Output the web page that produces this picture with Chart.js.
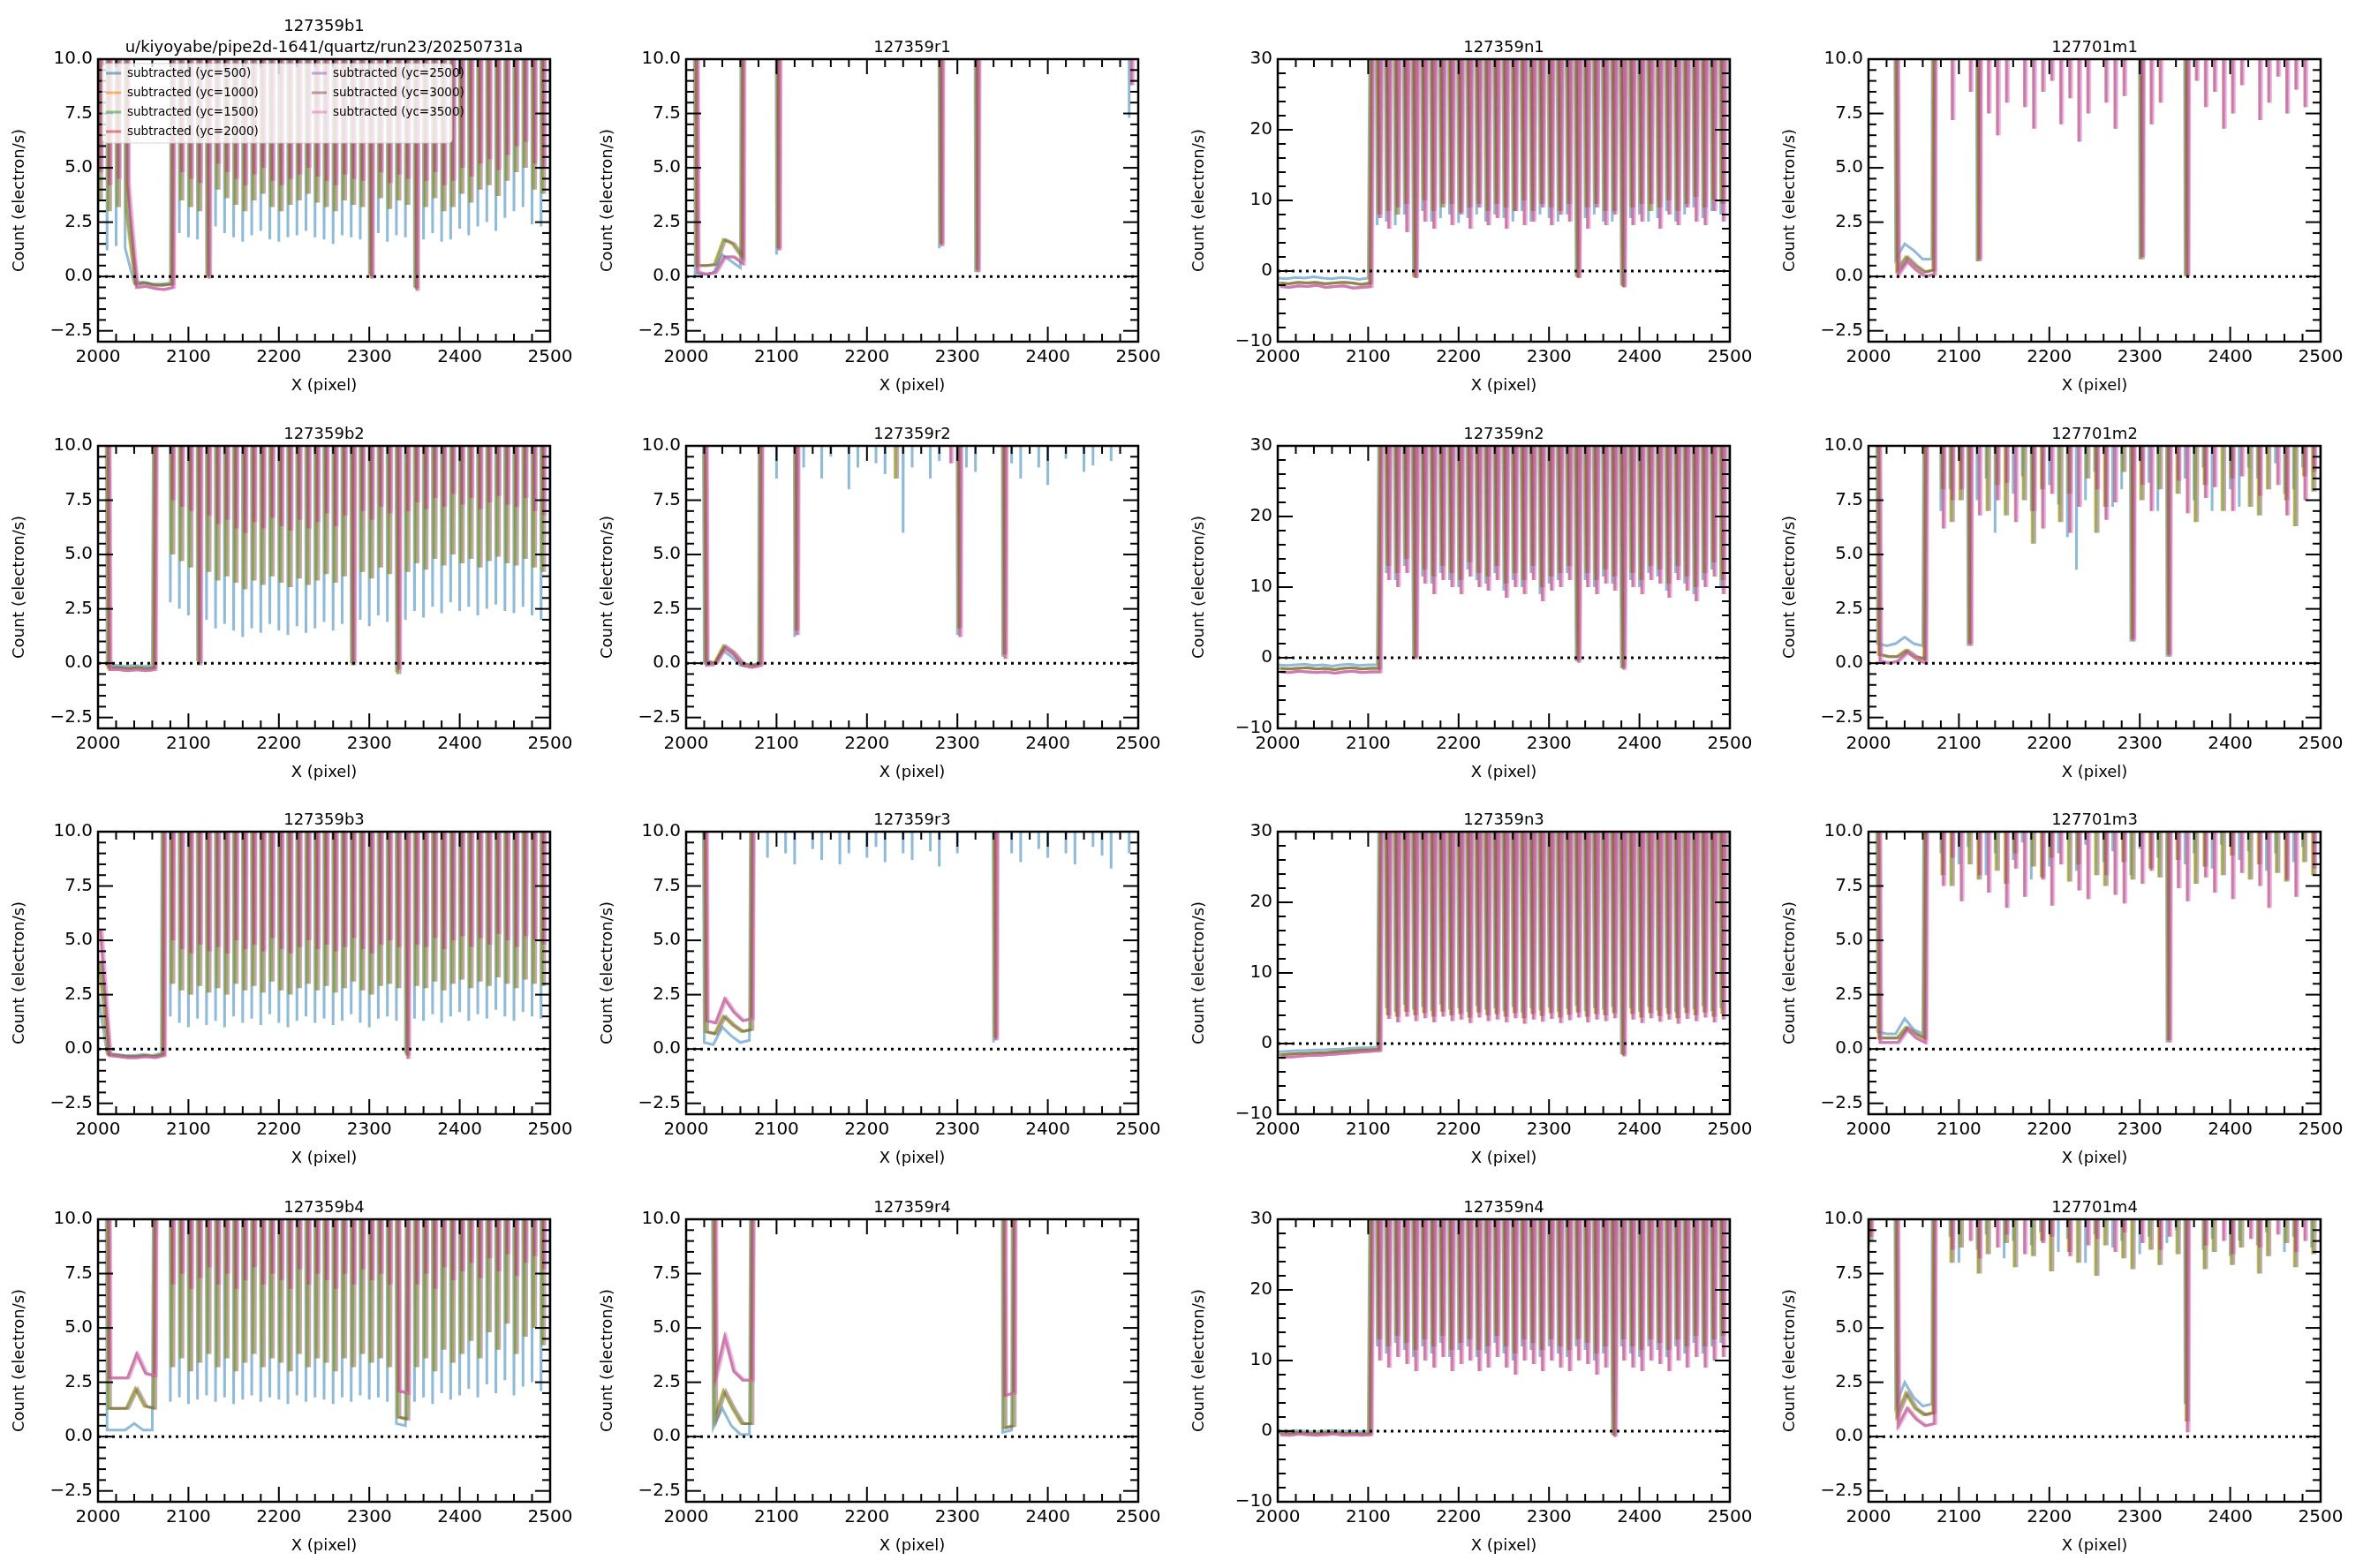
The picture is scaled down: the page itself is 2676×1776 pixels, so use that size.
<!DOCTYPE html>
<html>
<head>
<meta charset="utf-8">
<script src="https://cdn.jsdelivr.net/npm/chart.js@4.4.0/dist/chart.umd.min.js"></script>
<style>
  body { margin: 0; background: #fff; width: 2676px; height: 1776px; position: relative; overflow: hidden; }
  canvas { position: absolute; }
</style>
</head>
<body>
<script>
// off-scale marker (value above the plotted range)
const H = 99;

// gap minima sampled every 10 px from 2000 to 2500; peaks sit between them
const b1_lo = [2.0,1.2,1.4,1.3,-0.3,-0.25,-0.35,-0.35,-0.3,2.0, 1.8,1.7,0.1,2.3,2.0,1.8,1.6,1.9,2.1,1.7, 1.6,1.8,1.9,2.1,1.8,1.7,1.5,1.9,1.8,1.7, 0.1,2.0,1.6,1.9,1.8,-0.5,1.7,2.0,1.6,1.7, 2.2,1.9,2.3,2.5,2.1,2.7,3.0,3.2,2.4,2.3,3.8];
const b1_mid = [3.5,3.0,3.2,3.0,-0.35,-0.3,-0.4,-0.4,-0.35,3.5, 3.2,3.0,0.0,4.0,3.6,3.3,3.0,3.5,3.8,3.2, 3.0,3.3,3.5,3.8,3.4,3.2,3.0,3.5,3.3,3.2, 0.0,3.6,3.1,3.5,3.3,-0.55,3.2,3.6,3.0,3.2, 3.8,3.4,4.0,4.2,3.7,4.4,4.8,5.0,4.0,3.8,5.5];
const b1_hi = [4.8,4.2,4.5,4.3,-0.5,-0.45,-0.55,-0.6,-0.5,4.8, 4.5,4.3,-0.1,5.2,4.8,4.5,4.2,4.7,5.0,4.4, 4.2,4.5,4.7,5.0,4.6,4.4,4.2,4.7,4.5,4.4, -0.1,4.8,4.3,4.7,4.5,-0.65,4.4,4.8,4.2,4.4, 5.0,4.6,5.2,5.4,4.9,5.6,6.0,6.2,5.2,5.0,6.5];
const b1_gaps = [[2035, 2082]];

const r1_lo = [H,0.1,0.1,0.15,1.0,0.7,0.4,H,H,H, 1.0,H,H,H,H,H,H,H,H,H, H,H,H,H,H,H,H,H,1.3,H, H,H,0.2,H,H,H,H,H,H,H, H,H,H,H,H,H,H,H,H,7.3,H];
const r1_mid = [H,0.5,0.5,0.55,1.7,1.5,0.9,H,H,H, 1.3,H,H,H,H,H,H,H,H,H, H,H,H,H,H,H,H,H,1.5,H, H,H,0.3,H,H,H,H,H,H,H, H,H,H,H,H,H,H,H,H,H,H];
const r1_hi = [H,0.2,0.1,0.2,0.9,0.9,0.6,H,H,H, 1.2,H,H,H,H,H,H,H,H,H, H,H,H,H,H,H,H,H,1.4,H, H,H,0.2,H,H,H,H,H,H,H, H,H,H,H,H,H,H,H,H,8.8,H];
const r1_gaps = [[2005, 2062]];

const n1_lo = [-1.0,-1.1,-0.9,-1.0,-0.8,-1.0,-1.1,-0.9,-1.0,-1.2, -1.0,6.5,7.0,6.5,8.0,-0.8,8.5,7.0,7.5,8.0, 6.8,7.5,8.0,7.0,8.0,7.5,7.0,8.5,7.0,8.0, 7.5,7.0,8.0,-0.8,7.5,8.0,7.0,7.0,-2.0,7.5, 8.0,7.0,7.5,8.5,7.0,8.0,9.0,7.5,8.5,8.0,10.0];
const n1_mid = [-1.7,-1.8,-1.6,-1.7,-1.6,-1.8,-1.7,-1.6,-1.7,-1.9, -1.7,8.0,8.5,8.0,9.5,-0.9,10.0,8.5,9.0,9.5, 8.3,9.0,9.5,8.5,9.5,9.0,8.5,10.0,8.5,9.5, 9.0,8.5,9.5,-0.9,9.0,9.5,8.5,8.5,-2.2,9.0, 9.5,8.5,9.0,10.0,8.5,9.5,10.5,9.0,10.0,9.5,11.5];
const n1_hi = [-2.2,-2.3,-2.1,-2.2,-2.0,-2.3,-2.2,-2.1,-2.4,-2.3, -2.2,7.5,6.0,9.0,5.5,-1.0,7.0,6.0,9.5,6.5, 8.0,6.0,9.0,6.5,7.5,6.0,8.5,6.5,7.0,9.0, 6.5,8.0,7.0,-1.0,6.0,9.0,6.5,8.0,-2.3,6.5, 7.0,9.5,6.0,8.0,6.5,9.0,7.0,6.5,8.5,7.0,9.0];
const n1_gaps = [[2000, 2104]];

const m1_lo = [H,H,H,0.8,1.5,1.2,0.8,0.8,H,H, H,H,0.7,H,H,H,H,H,H,H, H,H,H,H,H,H,H,H,H,H, 0.8,H,H,H,H,0.05,H,H,H,H, H,H,H,H,H,H,H,H,H,H,H];
const m1_mid = [H,H,H,0.3,0.9,0.5,0.2,0.3,H,H, H,H,0.7,H,H,H,H,H,H,H, H,H,H,H,H,H,H,H,H,H, 0.8,H,H,H,H,0.0,H,H,H,H, H,H,H,H,H,H,H,H,H,H,H];
const m1_hi = [H,H,H,0.1,0.7,0.3,0.0,0.1,H,7.2, H,8.5,0.8,7.5,6.5,8.0,H,7.8,6.8,8.5, 9.0,7.0,8.2,6.2,7.5,H,8.0,6.8,8.3,H, 0.9,7.0,8.0,H,H,0.05,9.0,7.8,8.5,6.8, 7.5,8.8,H,7.2,8.0,9.2,7.5,8.6,7.8,H,H];
const m1_gaps = [[2025, 2074]];

const b2_lo = [H,-0.1,-0.1,-0.15,-0.1,-0.15,-0.1,H,2.8,2.5, 2.2,0.1,2.0,1.6,1.8,1.5,1.2,1.6,1.4,1.8, 1.5,1.3,1.7,1.4,1.6,1.9,1.5,1.8,0.0,2.0, 1.7,2.2,1.9,-0.4,2.0,2.4,2.1,2.6,2.3,2.8, 2.4,2.6,2.2,2.5,2.7,2.4,2.3,2.6,2.2,2.0,2.5];
const b2_mid = [H,-0.2,-0.2,-0.25,-0.2,-0.25,-0.2,H,5.0,4.7, 4.4,-0.1,4.2,3.8,4.0,3.7,3.4,3.8,3.6,4.0, 3.7,3.5,3.9,3.6,3.8,4.1,3.7,4.0,-0.1,4.2, 3.9,4.4,4.1,-0.5,4.2,4.6,4.3,4.8,4.5,5.0, 4.6,4.8,4.4,4.7,4.9,4.6,4.5,4.8,4.4,4.2,4.7];
const b2_hi = [H,-0.3,-0.3,-0.35,-0.3,-0.35,-0.3,H,7.5,7.2, 7.0,0.0,6.8,6.4,6.6,6.2,6.0,6.5,6.2,6.7, 6.3,6.1,6.6,6.2,6.5,6.9,6.3,6.8,0.0,7.0, 6.6,7.2,6.9,-0.3,7.0,7.4,7.1,7.6,7.2,7.8, 7.3,7.6,7.1,7.4,7.7,7.3,7.2,7.6,7.0,6.8,7.3];
const b2_gaps = [[2005, 2068]];

const r2_lo = [H,H,0.0,-0.1,0.6,0.3,-0.1,-0.15,-0.1,H, 8.5,H,1.2,9.0,H,8.5,9.5,H,8.0,9.0, H,9.2,8.7,H,6.0,9.0,H,8.5,9.3,H, 1.3,9.0,8.8,H,H,0.3,9.2,8.5,H,9.0, 8.2,H,9.4,H,8.8,9.1,H,9.3,H,H,H];
const r2_mid = [H,H,0.1,0.0,0.8,0.5,0.0,-0.1,0.0,H, H,H,1.5,H,H,H,H,H,H,H, H,H,H,8.5,H,H,H,H,H,H, 1.6,H,H,H,H,0.4,H,H,H,H, H,H,H,H,H,H,H,H,H,H,H];
const r2_hi = [H,H,-0.1,0.0,0.7,0.4,-0.1,-0.2,-0.1,H, H,H,1.3,H,H,H,H,H,H,H, H,H,H,H,H,H,H,H,H,9.2, 1.2,H,H,H,H,0.2,H,H,H,H, H,H,H,H,H,H,H,H,H,H,H];
const r2_gaps = [[2015, 2082]];

const n2_lo = [-1.0,-1.1,-1.0,-0.9,-1.1,-1.0,-1.2,-1.0,-0.9,-1.1, -1.0,-1.0,12.0,11.0,13.0,0.0,11.5,10.5,12.0,11.0, 10.0,12.5,11.0,10.5,12.0,9.5,11.0,10.0,12.0,9.0, 10.5,11.0,12.0,-0.5,11.0,10.0,11.5,10.5,-1.5,11.0, 10.0,12.0,11.5,9.5,12.0,10.5,9.0,11.0,12.5,10.0,12.0];
const n2_mid = [-1.5,-1.6,-1.5,-1.4,-1.6,-1.5,-1.7,-1.5,-1.4,-1.6, -1.5,-1.5,13.0,12.0,14.0,0.1,12.5,11.5,13.0,12.0, 11.0,13.5,12.0,11.5,13.0,10.5,12.0,11.0,13.0,10.0, 11.5,12.0,13.0,-0.4,12.0,11.0,12.5,11.5,-1.4,12.0, 11.0,13.0,12.5,10.5,13.0,11.5,10.0,12.0,13.5,11.0,13.0];
const n2_hi = [-2.0,-2.1,-1.9,-2.0,-2.1,-2.0,-2.2,-2.0,-1.9,-2.1, -2.0,-2.0,11.0,10.0,12.0,-0.2,10.5,9.0,11.0,10.0, 9.0,11.5,10.0,9.5,11.0,8.5,10.0,9.0,11.0,8.0, 9.5,10.0,11.0,-0.7,10.0,9.0,10.5,9.5,-1.7,10.0, 9.0,11.0,10.5,8.5,11.0,9.5,8.0,10.0,11.5,9.0,11.0];
const n2_gaps = [[2000, 2113]];

const m2_lo = [H,0.9,0.8,0.9,1.2,0.9,0.8,H,7.0,8.0, H,0.8,7.5,8.5,6.0,H,7.8,8.6,7.0,H, 8.2,7.3,5.8,4.3,7.5,8.8,H,7.2,8.0,1.0, H,8.3,7.0,0.3,H,8.5,7.5,9.0,7.0,H, 8.0,7.2,9.0,8.5,H,9.2,7.8,8.0,9.0,H,7.5];
const m2_mid = [H,0.4,0.3,0.3,0.6,0.3,0.2,H,8.0,6.5, 7.5,0.9,H,7.0,8.2,6.8,H,7.5,5.5,8.0, H,6.5,7.8,H,8.5,6.0,7.2,H,8.8,1.1, 7.5,H,8.0,0.4,7.8,H,6.5,8.2,H,7.0, 8.5,H,7.2,6.8,8.0,H,7.5,6.3,8.6,7.9,H];
const m2_hi = [H,0.1,0.0,0.1,0.5,0.2,0.0,H,6.2,7.5, 8.0,0.8,6.8,H,7.5,8.3,6.5,H,7.0,6.2, 7.8,H,6.0,7.2,H,8.0,6.6,7.4,H,1.0, 8.2,7.0,H,0.3,8.4,6.9,H,7.6,8.1,H, 7.0,8.6,H,7.7,H,8.2,6.8,H,7.5,8.8,H];
const m2_gaps = [[2005, 2068]];

const b3_lo = [2.5,-0.2,-0.25,-0.3,-0.3,-0.25,-0.3,-0.2,1.5,1.2, 1.0,1.4,1.1,1.3,1.0,1.5,1.2,1.4,1.1,1.6, 1.2,1.0,1.3,1.5,1.2,1.4,1.1,1.3,1.6,1.2, 1.0,1.4,1.5,1.3,-0.2,1.4,1.3,1.6,1.2,1.5, 1.7,1.3,1.6,1.4,1.8,1.5,1.3,1.7,1.5,1.4,1.6];
const b3_mid = [4.0,-0.25,-0.3,-0.35,-0.35,-0.3,-0.35,-0.25,3.0,2.7, 2.5,2.9,2.6,2.8,2.5,3.0,2.7,2.9,2.6,3.1, 2.7,2.5,2.8,3.0,2.7,2.9,2.6,2.8,3.1,2.7, 2.5,2.9,3.0,2.8,-0.3,2.9,2.8,3.1,2.7,3.0, 3.2,2.8,3.1,2.9,3.3,3.0,2.8,3.2,3.0,2.9,3.1];
const b3_hi = [5.5,-0.3,-0.35,-0.4,-0.4,-0.35,-0.4,-0.3,5.0,4.6, 4.4,4.8,4.5,4.7,4.4,5.0,4.6,4.8,4.5,5.1, 4.6,4.4,4.7,5.0,4.6,4.8,4.5,4.7,5.1,4.6, 4.4,4.8,5.0,4.7,-0.45,4.8,4.7,5.1,4.6,5.0, 5.2,4.7,5.1,4.8,5.3,5.0,4.7,5.2,5.0,4.8,5.1];
const b3_gaps = [[2005, 2074]];

const r3_lo = [H,H,0.3,0.2,1.0,0.6,0.3,0.4,H,8.8, H,9.0,8.5,H,9.2,8.7,H,8.5,9.0,H, 8.8,9.3,8.6,H,9.0,8.7,H,9.1,8.4,H, 9.0,H,H,H,0.3,H,9.0,8.6,H,9.2, 8.8,H,9.0,8.5,H,9.3,8.9,8.3,H,9.0,H];
const r3_mid = [H,H,0.8,0.7,1.5,1.1,0.8,0.9,H,H, H,H,H,H,H,H,H,H,H,H, H,H,H,H,H,H,H,H,H,H, H,H,H,H,0.5,H,H,H,H,H, H,H,H,H,H,H,H,H,H,H,H];
const r3_hi = [H,H,1.3,1.2,2.3,1.7,1.3,1.4,H,H, H,H,H,H,H,H,H,H,H,H, H,H,H,H,H,H,H,H,H,H, H,H,H,H,0.4,H,H,H,H,H, H,H,H,H,H,H,H,H,H,H,H];
const r3_gaps = [[2015, 2076]];

const n3_lo = [-1.2,-1.1,-1.0,-1.0,-0.9,-0.9,-0.8,-0.8,-0.7,-0.6, -0.6,-0.5,5.0,4.5,5.5,4.8,5.2,4.6,5.5,4.8, 5.0,4.5,5.3,4.8,5.0,4.6,5.2,4.4,5.0,4.7, 5.1,4.5,4.9,5.3,4.6,5.0,4.8,5.2,-1.5,5.0, 4.5,5.2,4.7,5.0,4.4,5.1,4.8,5.3,4.6,5.0,5.5];
const n3_mid = [-1.6,-1.5,-1.4,-1.4,-1.3,-1.3,-1.2,-1.1,-1.0,-0.9, -0.9,-0.8,4.0,3.8,4.5,4.0,4.3,3.8,4.5,4.0, 4.2,3.7,4.4,4.0,4.2,3.8,4.3,3.6,4.2,3.9, 4.3,3.7,4.1,4.4,3.8,4.2,4.0,4.3,-1.6,4.2, 3.7,4.3,3.9,4.2,3.6,4.3,4.0,4.4,3.8,4.2,4.6];
const n3_hi = [-2.0,-1.9,-1.8,-1.7,-1.7,-1.6,-1.5,-1.4,-1.3,-1.2, -1.1,-1.0,3.5,3.0,3.8,3.2,3.6,3.0,3.8,3.2, 3.4,2.9,3.7,3.2,3.4,3.0,3.6,2.8,3.4,3.1, 3.5,2.9,3.3,3.7,3.0,3.4,3.2,3.6,-1.8,3.4, 2.9,3.6,3.1,3.4,2.8,3.5,3.2,3.7,3.0,3.4,3.8];
const n3_gaps = [[2000, 2113]];

const m3_lo = [H,0.8,0.7,0.7,1.4,0.9,0.7,H,9.0,H, 8.5,9.3,H,8.0,9.0,H,8.7,9.5,7.8,H, 8.4,9.0,H,8.2,9.4,H,8.6,9.1,H,8.0, 9.2,H,8.8,0.3,H,8.5,9.0,H,8.3,9.4, H,8.7,9.1,H,8.2,9.0,H,8.6,9.3,H,8.8];
const m3_mid = [H,0.5,0.5,0.5,1.0,0.7,0.5,H,8.0,7.5, H,8.5,7.8,H,8.2,7.6,9.0,H,8.4,7.9, 8.8,H,7.7,8.5,H,8.0,7.5,H,8.6,7.8, H,8.3,7.9,0.4,8.7,H,7.6,8.4,H,8.0, 8.9,H,7.8,8.5,H,8.1,7.7,H,8.6,8.0,H];
const m3_hi = [H,0.3,0.3,0.3,0.9,0.5,0.3,H,7.5,8.8, 6.8,H,8.0,7.2,H,6.5,8.3,7.0,H,7.8, 6.6,8.5,H,7.3,6.9,H,8.0,7.1,6.7,H, 7.6,8.2,H,0.3,7.4,6.8,H,7.9,7.2,H, 6.9,8.1,H,7.5,6.5,H,7.8,7.0,H,8.3,7.2];
const m3_gaps = [[2005, 2068]];

const b4_lo = [H,0.3,0.3,0.3,0.6,0.3,0.3,H,1.6,1.8, 1.5,1.7,1.9,1.6,1.8,1.5,1.7,1.9,1.6,1.8, 1.7,1.5,1.9,1.6,1.8,1.7,1.5,1.8,1.6,1.9, 1.7,1.8,1.6,0.6,0.5,1.6,1.8,1.5,2.0,1.7, 1.9,2.2,1.8,2.4,2.0,2.6,1.9,2.3,2.5,2.1,2.6];
const b4_mid = [H,1.3,1.3,1.3,2.2,1.4,1.3,H,3.2,3.6, 3.0,3.4,3.8,3.2,3.6,3.0,3.4,3.8,3.2,3.6, 3.4,3.0,3.8,3.2,3.6,3.4,3.0,3.6,3.2,3.8, 3.4,3.6,3.2,0.9,0.8,3.2,3.6,3.0,4.0,3.4, 3.8,4.4,3.6,4.8,4.0,5.2,3.8,4.6,5.0,4.2,5.2];
const b4_hi = [H,2.7,2.7,2.7,3.8,2.9,2.8,H,7.0,7.5, 6.8,7.3,7.8,7.0,7.5,6.8,7.2,7.8,7.0,7.5, 7.2,6.8,7.7,7.0,7.5,7.2,6.8,7.5,7.0,7.7, 7.2,7.5,7.0,2.1,2.0,7.0,7.5,6.8,7.8,7.2, 7.6,8.0,7.3,8.2,7.6,8.4,7.4,8.0,8.3,7.7,8.4];
const b4_gaps = [[2005, 2068], [2332, 2338]];

const r4_lo = [H,H,H,0.4,1.3,0.5,0.1,0.1,H,H, H,H,H,H,H,H,H,H,H,H, H,H,H,H,H,H,H,H,H,H, H,H,H,H,H,0.2,0.3,H,H,H, H,H,H,H,H,H,H,H,H,H,H];
const r4_mid = [H,H,H,0.8,2.1,1.3,0.6,0.6,H,H, H,H,H,H,H,H,H,H,H,H, H,H,H,H,H,H,H,H,H,H, H,H,H,H,H,0.4,0.5,H,H,H, H,H,H,H,H,H,H,H,H,H,H];
const r4_hi = [H,H,H,2.8,4.6,3.0,2.6,2.6,H,H, H,H,H,H,H,H,H,H,H,H, H,H,H,H,H,H,H,H,H,H, H,H,H,H,H,1.9,2.0,H,H,H, H,H,H,H,H,H,H,H,H,H,H];
const r4_gaps = [[2025, 2078], [2352, 2358]];

const n4_lo = [0.1,0.0,0.1,0.0,-0.1,0.0,0.1,0.0,0.0,-0.1, 0.0,12.0,11.0,12.5,11.5,10.5,12.0,11.0,12.5,10.5, 11.5,12.0,10.5,11.0,12.5,11.0,10.0,12.0,11.5,10.5, 12.0,11.0,10.5,12.0,11.5,10.0,11.0,-0.5,12.0,11.0, 10.5,12.0,11.5,10.5,12.0,11.0,12.5,11.0,12.0,12.5,13.0];
const n4_mid = [-0.2,-0.3,-0.2,-0.3,-0.4,-0.2,-0.2,-0.3,-0.3,-0.4, -0.3,13.0,12.0,13.5,12.5,11.5,13.0,12.0,13.5,11.5, 12.5,13.0,11.5,12.0,13.5,12.0,11.0,13.0,12.5,11.5, 13.0,12.0,11.5,13.0,12.5,11.0,12.0,-0.6,13.0,12.0, 11.5,13.0,12.5,11.5,13.0,12.0,13.5,12.0,13.0,13.5,14.0];
const n4_hi = [-0.5,-0.6,-0.4,-0.5,-0.6,-0.5,-0.4,-0.6,-0.5,-0.6, -0.5,10.0,9.0,10.5,9.5,8.5,10.0,9.0,10.5,8.5, 9.5,10.0,8.5,9.0,10.5,9.0,8.0,10.0,9.5,8.5, 10.0,9.0,8.5,10.0,9.5,8.0,9.0,-0.8,10.0,9.0, 8.5,10.0,9.5,8.5,10.0,9.0,10.5,9.0,10.0,10.5,11.0];
const n4_gaps = [[2000, 2104]];

const m4_lo = [8.8,H,H,1.4,2.5,1.8,1.4,1.5,H,9.2, 8.0,H,8.6,9.3,H,8.2,9.0,H,8.8,9.4, H,8.5,9.1,H,8.0,9.3,H,8.7,9.0,H, 8.4,9.2,H,8.9,9.5,1.5,H,8.6,9.1,H, 8.3,9.0,H,8.8,9.4,H,8.5,9.2,H,8.7,9.0];
const m4_mid = [9.0,H,H,1.0,2.0,1.3,1.0,1.1,H,8.0, 8.7,H,7.5,8.4,H,8.9,7.8,H,8.3,9.0, 7.6,H,8.5,8.0,H,7.4,8.8,H,8.2,7.7, H,8.6,7.9,H,8.4,0.7,H,7.7,8.5,H, 7.9,8.7,H,7.5,8.3,H,8.9,7.8,H,8.4,8.0];
const m4_hi = [9.2,H,H,0.5,1.3,0.8,0.5,0.6,H,8.6, H,9.0,8.2,H,8.7,9.3,H,8.4,H,8.9, 9.2,H,8.3,H,8.8,9.1,H,8.5,9.4,H, 8.9,H,8.6,9.2,H,0.2,H,8.8,H,9.0, 8.4,H,9.1,8.7,H,9.3,H,8.5,9.0,H,8.8];
const m4_gaps = [[2025, 2074]];

const PANEL_TITLES = [
  ['127359b1', 'u/kiyoyabe/pipe2d-1641/quartz/run23/20250731a'], ['127359r1'], ['127359n1'], ['127701m1'],
  ['127359b2'], ['127359r2'], ['127359n2'], ['127701m2'],
  ['127359b3'], ['127359r3'], ['127359n3'], ['127701m3'],
  ['127359b4'], ['127359r4'], ['127359n4'], ['127701m4']
];
const PANEL_DATA = [
  [b1_lo, b1_mid, b1_hi, b1_gaps], [r1_lo, r1_mid, r1_hi, r1_gaps], [n1_lo, n1_mid, n1_hi, n1_gaps], [m1_lo, m1_mid, m1_hi, m1_gaps],
  [b2_lo, b2_mid, b2_hi, b2_gaps], [r2_lo, r2_mid, r2_hi, r2_gaps], [n2_lo, n2_mid, n2_hi, n2_gaps], [m2_lo, m2_mid, m2_hi, m2_gaps],
  [b3_lo, b3_mid, b3_hi, b3_gaps], [r3_lo, r3_mid, r3_hi, r3_gaps], [n3_lo, n3_mid, n3_hi, n3_gaps], [m3_lo, m3_mid, m3_hi, m3_gaps],
  [b4_lo, b4_mid, b4_hi, b4_gaps], [r4_lo, r4_mid, r4_hi, r4_gaps], [n4_lo, n4_mid, n4_hi, n4_gaps], [m4_lo, m4_mid, m4_hi, m4_gaps]
];

const SERIES_LABELS = ['subtracted (yc=500)', 'subtracted (yc=1000)', 'subtracted (yc=1500)', 'subtracted (yc=2000)',
                       'subtracted (yc=2500)', 'subtracted (yc=3000)', 'subtracted (yc=3500)'];
const SERIES_COLORS = ['31,119,180', '255,127,14', '44,160,44', '214,39,40', '148,103,189', '140,86,75', '227,119,194'];
// which of the lo/mid/hi arrays each yc series uses
const SERIES_LEVEL = [0, 1, 1, 2, 2, 1, 2];
// fiber traces drift slightly in x with yc (pixels)
const SERIES_XSHIFT = [0, 0.8, 1.6, 2.4, 3.2, 4.0, 4.8];

const Y_TICKS_SMALL = [-2.5, 0, 2.5, 5, 7.5, 10];
const Y_TICKS_N = [-10, 0, 10, 20, 30];
const X_TICKS = [2000, 2100, 2200, 2300, 2400, 2500];

const PLOT_LEFT = [111, 777, 1447, 2116];
const PLOT_TOP = [67, 505, 942, 1381];
const FONT = "'DejaVu Sans', sans-serif";

function inGap(x, gaps) {
  return gaps.some(g => x >= g[0] && x <= g[1]);
}

// gap minima with off-scale fiber peaks between them (except inside flat regions)
function buildPoints(lows, gaps, shift) {
  const pts = [];
  lows.forEach((y, i) => {
    const x = 2000 + 10 * i;
    pts.push({ x: x + shift, y });
    if (i < lows.length - 1 && !inGap(x + 5, gaps)) pts.push({ x: x + 5 + shift, y: H });
  });
  return pts;
}

const framePlugin = {
  id: 'frame',
  afterDraw(chart, args, opts) {
    const { ctx, chartArea: a, scales } = chart;
    const ys = scales.y, xs = scales.x;
    ctx.save();
    ctx.strokeStyle = '#000';
    ctx.lineWidth = 2.5;
    ctx.strokeRect(a.left, a.top, a.right - a.left, a.bottom - a.top);
    ctx.lineWidth = 2;
    const tick = (x1, y1, x2, y2) => { ctx.beginPath(); ctx.moveTo(x1, y1); ctx.lineTo(x2, y2); ctx.stroke(); };
    for (let v = 2000; v <= 2500; v += 20) {
      const px = xs.getPixelForValue(v);
      const len = v % 100 === 0 ? 17 : 9;
      tick(px, a.bottom, px, a.bottom - len);
      tick(px, a.top, px, a.top + len);
    }
    const big = opts.big;
    const step = big ? 2 : 0.5;
    for (let v = ys.min; v <= ys.max + 1e-9; v += step) {
      const r = Math.round(v * 10) / 10;
      const major = big ? (r % 10 === 0) : (Math.abs(r / 2.5 - Math.round(r / 2.5)) < 1e-6);
      const py = ys.getPixelForValue(r);
      const len = major ? 17 : 9;
      tick(a.left, py, a.left + len, py);
      tick(a.right, py, a.right - len, py);
    }
    // title lines
    ctx.fillStyle = '#000';
    ctx.font = '18px ' + FONT;
    ctx.textAlign = 'center';
    ctx.textBaseline = 'alphabetic';
    const lines = opts.title;
    const cx = (a.left + a.right) / 2;
    lines.forEach((t, k) => {
      ctx.fillText(t, cx, a.top - 8 - 24 * (lines.length - 1 - k));
    });
    if (opts.legend) {
      const bx = a.left + 5, by = a.top + 5;
      ctx.fillStyle = 'rgba(255,255,255,0.8)';
      ctx.strokeStyle = 'rgba(204,204,204,0.8)';
      ctx.lineWidth = 1;
      ctx.beginPath();
      ctx.roundRect(bx, by, 396, 90, 4);
      ctx.fill();
      ctx.stroke();
      ctx.font = '13.5px ' + FONT;
      ctx.textAlign = 'left';
      ctx.textBaseline = 'middle';
      SERIES_LABELS.forEach((lab, k) => {
        const col = k < 4 ? 0 : 1;
        const row = k < 4 ? k : k - 4;
        const hx = bx + (col ? 237 : 4);
        const hy = by + 11 + 22 * row;
        ctx.strokeStyle = 'rgba(' + SERIES_COLORS[k] + ',0.55)';
        ctx.lineWidth = 3;
        tick(hx, hy, hx + 17, hy);
        ctx.fillStyle = '#000';
        ctx.fillText(lab, hx + 24, hy);
      });
    }
    ctx.restore();
  }
};

PANEL_DATA.forEach((pd, p) => {
  const row = Math.floor(p / 4), col = p % 4;
  const big = col === 2;
  const canvas = document.createElement('canvas');
  canvas.width = 669;
  canvas.height = 460;
  canvas.style.left = (PLOT_LEFT[col] - 111) + 'px';
  canvas.style.top = (PLOT_TOP[row] - 67) + 'px';
  document.body.appendChild(canvas);

  const gaps = pd[3];
  const datasets = SERIES_LABELS.map((lab, k) => ({
    label: lab,
    data: buildPoints(pd[SERIES_LEVEL[k]], gaps, SERIES_XSHIFT[k]),
    borderColor: 'rgba(' + SERIES_COLORS[k] + ',0.5)',
    borderWidth: 3,
    pointRadius: 0,
    tension: 0,
    order: 10 - k
  }));
  datasets.push({
    label: 'zero',
    data: [{ x: 2000, y: 0 }, { x: 2500, y: 0 }],
    borderColor: '#000',
    borderWidth: 3,
    borderDash: [3, 5],
    pointRadius: 0,
    order: 0
  });

  const yTicks = big ? Y_TICKS_N : Y_TICKS_SMALL;
  new Chart(canvas, {
    type: 'line',
    data: { datasets },
    options: {
      responsive: false,
      animation: false,
      devicePixelRatio: 1,
      layout: { padding: { left: 12, top: 67, right: 46, bottom: 12 } },
      plugins: {
        legend: { display: false },
        tooltip: { enabled: false },
        frame: { title: PANEL_TITLES[p], legend: p === 0, big }
      },
      scales: {
        x: {
          type: 'linear', min: 2000, max: 2500,
          afterBuildTicks: s => { s.ticks = X_TICKS.map(v => ({ value: v })); },
          afterFit: s => { s.height = 61; },
          grid: { display: false, drawTicks: false },
          border: { display: false },
          ticks: { color: '#000', font: { family: FONT, size: 20 }, padding: 6, maxRotation: 0, callback: v => String(v) },
          title: { display: true, text: 'X (pixel)', color: '#000', font: { family: FONT, size: 18 }, padding: { top: 2, bottom: 0 } }
        },
        y: {
          min: big ? -10 : -3, max: big ? 30 : 10,
          afterBuildTicks: s => { s.ticks = yTicks.map(v => ({ value: v })); },
          afterFit: s => { s.width = 99; },
          grid: { display: false, drawTicks: false },
          border: { display: false },
          ticks: {
            color: '#000', font: { family: FONT, size: 20 }, padding: 6,
            callback: v => (big ? String(v) : v.toFixed(1)).replace('-', '\u2212')
          },
          title: { display: true, text: 'Count (electron/s)', color: '#000', font: { family: FONT, size: 18 }, padding: { top: 0, bottom: 4 } }
        }
      }
    },
    plugins: [framePlugin]
  });
});
</script>
</body>
</html>
